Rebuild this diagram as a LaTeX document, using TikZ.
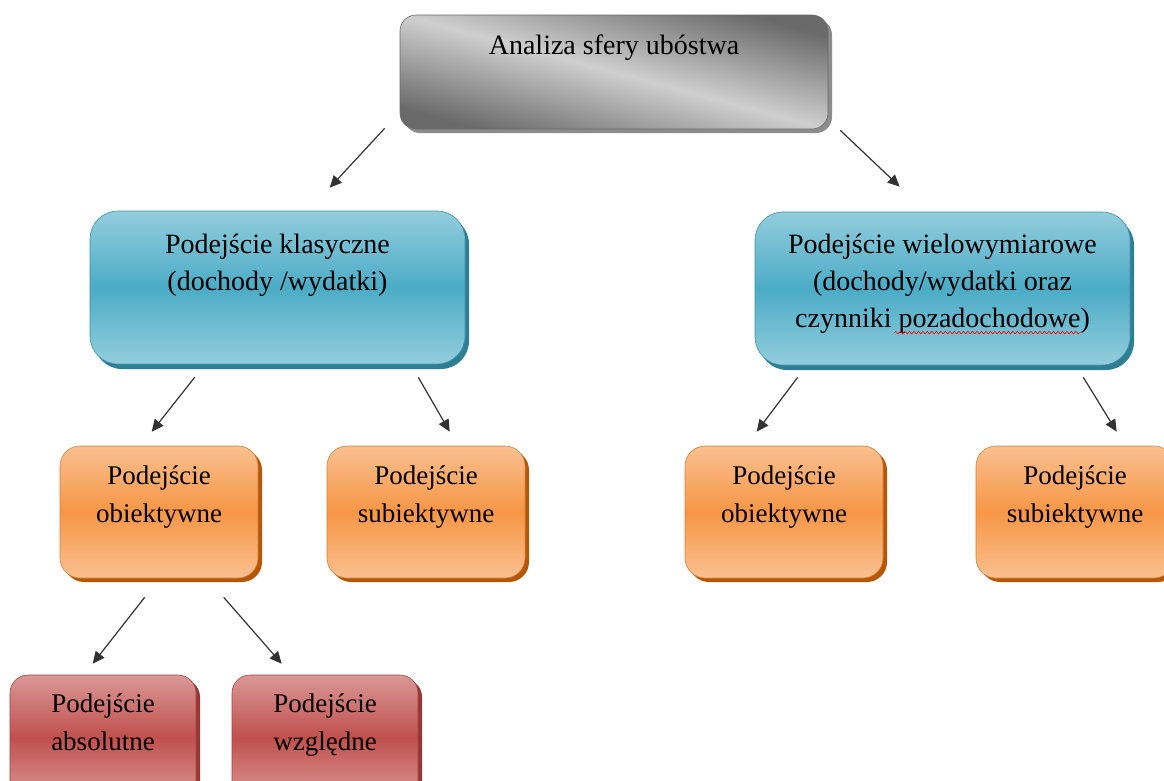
\documentclass[tikz,border=0pt]{standalone}
\usepackage{fontspec}
\setmainfont{Liberation Serif}
\usepackage{tikz}
\usetikzlibrary{positioning,arrows.meta,decorations.pathmorphing}

\definecolor{gD}{HTML}{6A6A6A}
\definecolor{gL}{HTML}{CFCFCF}
\definecolor{gS}{HTML}{8C8C8C}
\definecolor{bL}{HTML}{93CDDD}
\definecolor{bM}{HTML}{4BACC6}
\definecolor{bS}{HTML}{2F7F94}
\definecolor{oL}{HTML}{FAC090}
\definecolor{oM}{HTML}{F79646}
\definecolor{oS}{HTML}{B65708}
\definecolor{rL}{HTML}{DA9896}
\definecolor{rM}{HTML}{C0504D}
\definecolor{rS}{HTML}{953735}

\begin{document}
\begin{tikzpicture}[x=1pt,y=-1pt]
      \useasboundingbox(0,0) rectangle (1164,780);
      \tikzset{G/.style = {draw=gD, line width=0.6pt, rounded corners=16pt, minimum width=428pt, minimum height=114pt,
          preaction={fill=gS, transform canvas={shift={(4pt,-4pt)}}},
          top color=gD, bottom color=gD, middle color=gL, shading angle=-15}}
      \tikzset{B/.style = {draw=bM!85!black, line width=0.6pt, rounded corners=28pt, minimum width=375pt, minimum height=153pt,
          preaction={fill=bS, transform canvas={shift={(4pt,-5pt)}}},
          top color=bL, bottom color=bL, middle color=bM}}
      \tikzset{O/.style = {draw=oM!85!black, line width=0.6pt, rounded corners=20pt, minimum width=198pt, minimum height=132pt,
          preaction={fill=oS, transform canvas={shift={(4pt,-4pt)}}},
          top color=oL, bottom color=oL, middle color=oM}}
      \tikzset{R/.style = {draw=rM!85!black, line width=0.6pt, rounded corners=18pt, minimum width=186pt, minimum height=125pt,
          preaction={fill=rS, transform canvas={shift={(4pt,-4pt)}}},
          top color=rL, bottom color=rL, middle color=rM}}
      \tikzset{T/.style = {align=center, inner sep=0pt, text=black, font=\fontsize{28}{37}\selectfont}}
      \tikzset{TS/.style = {align=center, inner sep=0pt, text=black, font=\fontsize{27}{38}\selectfont}}
      \tikzset{E/.style = {draw=black!80, line width=1.2pt, -{Triangle[length=12pt,width=11pt]}}}
      \tikzset{W/.style = {draw=red, line width=0.6pt, decorate, decoration={snake, amplitude=1.2pt, segment length=4.5pt}}}
      % boxes
      \node[G](g0) at (614,72) {};
      \node[B](b0) at (277.5,287.5) {};
      \node[B](b1) at (942.5,288.5) {};
      \node[O](o00) at (159,512) {};
      \node[O](o01) at (426,512) {};
      \node[O](o10) at (784,512) {};
      \node[O](o11) at (1075,512) {};
      \node[R](r0) at (103,737.5) {};
      \node[R](r1) at (325,737.5) {};
      % labels
      \node[T,below=20pt of g0.north](tg0) {Analiza sfery ubóstwa};
      \node[T,below=23pt of b0.north](tb0) {Podejście klasyczne\\(dochody /wydatki)};
      \node[T,below=22pt of b1.north](tb1) {Podejście wielowymiarowe\\(dochody/wydatki oraz\\czynniki pozadochodowe)};
      \node[TS,below=20pt of o00.north](to00) {Podejście\\obiektywne};
      \node[TS,below=20pt of o01.north](to01) {Podejście\\subiektywne};
      \node[TS,below=20pt of o10.north](to10) {Podejście\\obiektywne};
      \node[TS,below=20pt of o11.north](to11) {Podejście\\subiektywne};
      \node[TS,below=19pt of r0.north](tr0) {Podejście\\absolutne};
      \node[TS,below=19pt of r1.north](tr1) {Podejście\\względne};
      %% spell-check wave
      \draw[W]([shift={(-48,-1)}]tb1.south) to ([shift={(138,-1)}]tb1.south);
      % arrows
      \draw[E]([shift={(-15,-1)}]g0.south west) to ([shift={(240,-23)}]b0.north west);
      \draw[E]([shift={(12,1)}]g0.south east) to ([shift={(145,-25)}]b1.north west);
      \draw[E]([shift={(105,13)}]b0.south west) to ([shift={(92,-14)}]o00.north west);
      \draw[E]([shift={(-47,13)}]b0.south east) to ([shift={(123,-14)}]o01.north west);
      \draw[E]([shift={(43,12)}]b1.south west) to ([shift={(72,-14)}]o10.north west);
      \draw[E]([shift={(-47,12)}]b1.south east) to ([shift={(141,-14)}]o11.north west);
      \draw[E]([shift={(85,19)}]o00.south west) to ([shift={(83,-11)}]r0.north west);
      \draw[E]([shift={(164,19)}]o00.south west) to ([shift={(50,-11)}]r1.north west);
    \end{tikzpicture}
\end{document}
